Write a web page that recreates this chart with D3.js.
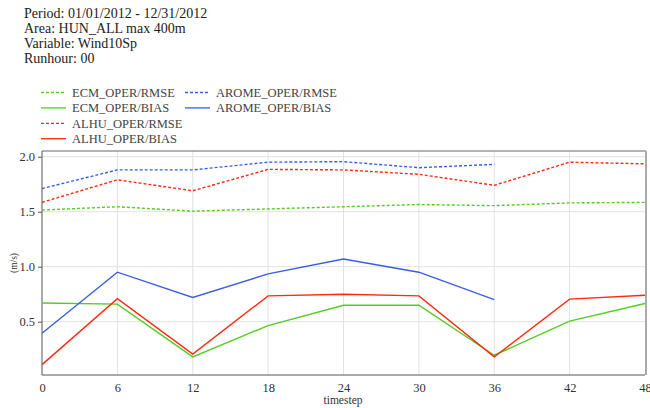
<!DOCTYPE html>
<html><head><meta charset="utf-8">
<script src="https://cdn.jsdelivr.net/npm/d3@7"></script>
<style>body{margin:0;background:#fff}svg{display:block}</style>
</head><body>
<script>
const headerLines = ["Period: 01/01/2012 - 12/31/2012","Area: HUN_ALL max 400m","Variable: Wind10Sp","Runhour: 00"];
const timesteps = [0,6,12,18,24,30,36,42,48];
const xTicks = [0,6,12,18,24,30,36,42,48];
const yTicks = [0.5,1.0,1.5,2.0];
const ecmRmse  = [1.515,1.545,1.505,1.525,1.545,1.565,1.555,1.58,1.585];
const ecmBias  = [0.67,0.66,0.18,0.465,0.65,0.65,0.195,0.505,0.665];
const alhuRmse = [1.585,1.79,1.69,1.885,1.88,1.84,1.74,1.95,1.935];
const alhuBias = [0.11,0.71,0.205,0.735,0.75,0.735,0.18,0.705,0.74];
const aromeRmse = [1.71,1.88,1.88,1.95,1.955,1.90,1.93];
const aromeBias = [0.395,0.95,0.72,0.935,1.07,0.95,0.70];
const seriesNames = ["ECM_OPER/RMSE","ECM_OPER/BIAS","ALHU_OPER/RMSE","ALHU_OPER/BIAS","AROME_OPER/RMSE","AROME_OPER/BIAS"];
const seriesValues = [ecmRmse,ecmBias,alhuRmse,alhuBias,aromeRmse,aromeBias];
const seriesColors = ["#55cc22","#55cc22","#ff2a10","#ff2a10","#3a5ee0","#3a5ee0"];
const seriesDashed = [true,false,true,false,true,false];

const FONT="Liberation Serif";
const W=650,H=408;
const svg=d3.select("body").append("svg").attr("width",W).attr("height",H).style("font-family",FONT);
const m={l:42,r:645,t:151,b:375};
const x=d3.scaleLinear().domain([0,48]).range([m.l,m.r]);
const y=d3.scaleLinear().domain([0,2.05]).range([376.7,376.7-2.05*110]);

// header
svg.append("g").selectAll("text").data(headerLines).join("text")
  .attr("x",24).attr("y",(d,i)=>18.3+i*15).style("font-family",FONT).attr("font-size",14).attr("fill","#222").text(d=>d);

// legend
const leg=svg.append("g");
seriesNames.forEach((n,i)=>{
  const col=i<4?0:1, row=i<4?i:i-4;
  const lx=col===0?41:185, ly=92.5+row*15.4;
  leg.append("line").attr("x1",lx).attr("x2",lx+25).attr("y1",ly).attr("y2",ly)
    .attr("stroke",seriesColors[i]).attr("stroke-width",1.3)
    .attr("stroke-dasharray",seriesDashed[i]?"3,2":null);
  leg.append("text").attr("x",lx+31).attr("y",ly+4.5).style("font-family",FONT).attr("font-size",12.5).attr("fill","#444").text(n);
});

// grid
const g=svg.append("g");
g.selectAll(".hg").data(yTicks).join("line").attr("x1",m.l).attr("x2",m.r)
  .attr("y1",d=>y(d)).attr("y2",d=>y(d)).attr("stroke","#e2e2e2").attr("stroke-width",1);
g.selectAll(".vg").data(xTicks.filter(d=>d>0&&d<48)).join("line").attr("y1",m.t).attr("y2",m.b)
  .attr("x1",d=>x(d)).attr("x2",d=>x(d)).attr("stroke","#e2e2e2").attr("stroke-width",1);

// frame
svg.append("line").attr("x1",m.l).attr("x2",m.r+1).attr("y1",m.t).attr("y2",m.t).attr("stroke","#666").attr("stroke-width",1);
svg.append("line").attr("x1",m.r+1).attr("x2",m.r+1).attr("y1",m.t).attr("y2",m.b).attr("stroke","#aaa").attr("stroke-width",2);

// axes
const yAxis=svg.append("g").attr("transform",`translate(${m.l},0)`)
  .call(d3.axisLeft(y).tickValues(yTicks).tickFormat(d3.format(".1f")).tickSize(4).tickPadding(3));
yAxis.select(".domain").attr("d",`M0,${m.t}V${m.b}`).attr("stroke","#555");
const xAxis=svg.append("g").attr("transform",`translate(0,${m.b})`)
  .call(d3.axisBottom(x).tickValues(xTicks).tickSize(0).tickPadding(8));
xAxis.select(".domain").attr("d",`M${m.l},0H${m.r}`).attr("stroke","#555");
yAxis.attr("font-family",FONT); xAxis.attr("font-family",FONT);
svg.selectAll(".tick text").style("font-family",FONT).attr("font-size",12.5).attr("fill","#333");
svg.selectAll(".tick line").attr("stroke","#555");

svg.append("text").attr("x",343).attr("y",404).attr("text-anchor","middle").style("font-family",FONT).attr("font-size",11.5).attr("fill","#333").text("timestep");
svg.append("text").attr("transform","translate(17,263) rotate(-90)").attr("text-anchor","middle").style("font-family",FONT).attr("font-size",9.5).attr("fill","#333").text("(m/s)");

// series
const line=d3.line().x((d,i)=>x(timesteps[i])).y(d=>y(d));
seriesValues.forEach((vals,i)=>{
  svg.append("path").attr("d",line(vals)).attr("fill","none").attr("stroke",seriesColors[i])
    .attr("stroke-width",1.4).attr("stroke-dasharray",seriesDashed[i]?"3,2":null);
});
</script>
</body></html>
